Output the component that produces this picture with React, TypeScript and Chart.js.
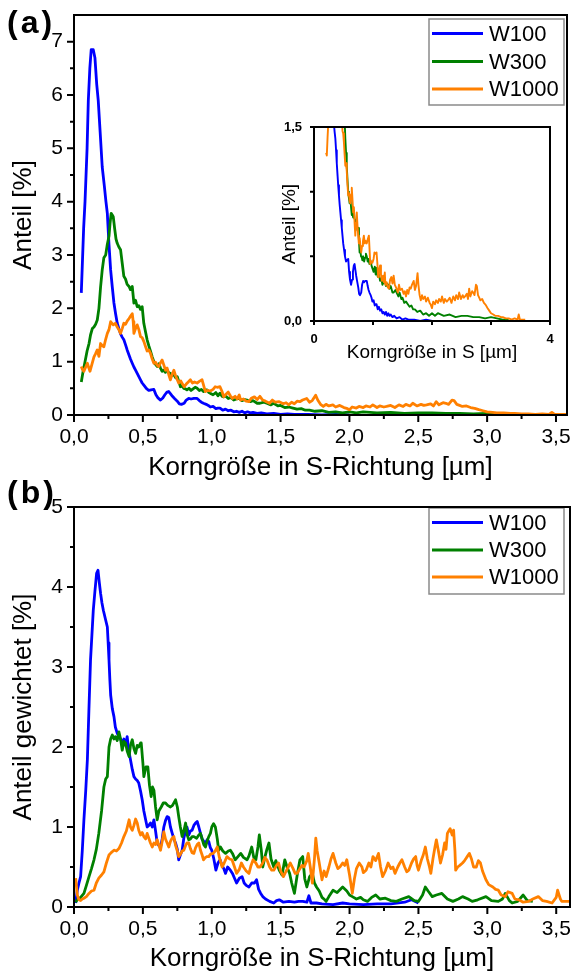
import React, { useEffect, useRef } from 'react';
import { Chart, registerables } from 'chart.js';

Chart.register(...registerables);

const FONT = "'Liberation Sans', Arial, Helvetica, sans-serif";

const seriesLabels = ['W100', 'W300', 'W1000'];
const seriesColors = ['#0000ff', '#008000', '#ff8000'];

// tick values
const xMajorTicks = [0, 0.5, 1, 1.5, 2, 2.5, 3, 3.5];
const xMinorTicks = [0.25, 0.75, 1.25, 1.75, 2.25, 2.75, 3.25];
const topYMajorTicks = [0, 1, 2, 3, 4, 5, 6, 7];
const topYMinorTicks = [0.5, 1.5, 2.5, 3.5, 4.5, 5.5, 6.5];
const bottomYMajorTicks = [0, 1, 2, 3, 4, 5];
const bottomYMinorTicks = [0.5, 1.5, 2.5, 3.5, 4.5];
const insetXTicks = [0, 1, 2, 3, 4];
const insetXLabels = [0, 4];
const insetYTicks = [0, 0.5, 1, 1.5];
const insetYLabels = [0, 1.5];
const insetMinX = 0.2;

// (a) Anteil [%]  — [x, y]
const topW100 = [
  [0.053, 2.29], [0.07, 3.5], [0.08, 4.0], [0.095, 5.0], [0.104, 5.9], [0.115, 6.5], [0.125, 6.85],
  [0.14, 6.85], [0.152, 6.7], [0.165, 6.2], [0.176, 5.9], [0.19, 5.3], [0.205, 4.65], [0.22, 4.3],
  [0.232, 4.0], [0.242, 3.78], [0.254, 3.2], [0.266, 2.72], [0.278, 2.4], [0.29, 2.1], [0.302, 1.9],
  [0.314, 1.72], [0.326, 1.62], [0.338, 1.52], [0.35, 1.46], [0.362, 1.41], [0.374, 1.32], [0.386, 1.22],
  [0.4, 1.12], [0.41, 1.05], [0.423, 0.97], [0.435, 0.9], [0.447, 0.84], [0.459, 0.78], [0.471, 0.72],
  [0.483, 0.66], [0.495, 0.6], [0.51, 0.55], [0.525, 0.5], [0.543, 0.46], [0.56, 0.47], [0.58, 0.48],
  [0.595, 0.38], [0.61, 0.32], [0.628, 0.28], [0.645, 0.32], [0.66, 0.38], [0.675, 0.43], [0.688, 0.44],
  [0.7, 0.4], [0.715, 0.35], [0.73, 0.31], [0.75, 0.26], [0.765, 0.21], [0.78, 0.2], [0.8, 0.22],
  [0.815, 0.28], [0.833, 0.31], [0.85, 0.3], [0.87, 0.31], [0.894, 0.31], [0.91, 0.27], [0.925, 0.24],
  [0.94, 0.22], [0.96, 0.2], [0.975, 0.18], [0.99, 0.15], [1.01, 0.16], [1.03, 0.12], [1.045, 0.13],
  [1.06, 0.13], [1.08, 0.09], [1.1, 0.11], [1.12, 0.08], [1.14, 0.09], [1.16, 0.06], [1.18, 0.07],
  [1.2, 0.05], [1.22, 0.07], [1.24, 0.04], [1.26, 0.06], [1.28, 0.04], [1.3, 0.05], [1.33, 0.03],
  [1.36, 0.04], [1.4, 0.02], [1.45, 0.03], [1.5, 0.01], [1.55, 0.02], [1.6, 0.01], [1.7, 0.01],
  [1.8, 0.0], [1.9, 0.01], [2.0, 0.0],
];
const topW300 = [
  [0.053, 0.62], [0.065, 0.8], [0.08, 1.0], [0.095, 1.2], [0.109, 1.34], [0.12, 1.5], [0.133, 1.62],
  [0.145, 1.65], [0.157, 1.7], [0.169, 1.78], [0.181, 2.0], [0.193, 2.4], [0.205, 2.72], [0.217, 2.95],
  [0.23, 3.0], [0.242, 3.2], [0.254, 3.35], [0.262, 3.6], [0.27, 3.78], [0.278, 3.75], [0.285, 3.72],
  [0.295, 3.5], [0.305, 3.3], [0.314, 3.22], [0.326, 3.15], [0.338, 3.1], [0.35, 2.85], [0.362, 2.6],
  [0.374, 2.55], [0.386, 2.45], [0.4, 2.41], [0.41, 2.35], [0.423, 2.41], [0.435, 2.1], [0.447, 2.15],
  [0.459, 2.03], [0.471, 2.05], [0.483, 1.98], [0.495, 2.03], [0.507, 1.72], [0.52, 1.55], [0.531, 1.41],
  [0.543, 1.3], [0.555, 1.2], [0.568, 1.09], [0.58, 1.0], [0.592, 0.95], [0.604, 0.91], [0.616, 0.96],
  [0.628, 0.88], [0.64, 0.82], [0.652, 0.84], [0.664, 0.8], [0.676, 0.85], [0.688, 0.79], [0.7, 0.78],
  [0.712, 0.74], [0.725, 0.76], [0.737, 0.7], [0.75, 0.72], [0.762, 0.62], [0.773, 0.53], [0.785, 0.55],
  [0.797, 0.5], [0.81, 0.49], [0.82, 0.47], [0.835, 0.5], [0.85, 0.46], [0.865, 0.49], [0.88, 0.52],
  [0.894, 0.5], [0.91, 0.46], [0.925, 0.48], [0.94, 0.44], [0.955, 0.47], [0.966, 0.47], [0.98, 0.42],
  [0.995, 0.4], [1.01, 0.38], [1.03, 0.42], [1.045, 0.36], [1.06, 0.41], [1.075, 0.35], [1.087, 0.34],
  [1.1, 0.36], [1.12, 0.31], [1.14, 0.33], [1.16, 0.28], [1.18, 0.3], [1.2, 0.31], [1.22, 0.27],
  [1.24, 0.29], [1.256, 0.28], [1.28, 0.25], [1.3, 0.27], [1.33, 0.22], [1.35, 0.22], [1.38, 0.24],
  [1.4, 0.22], [1.43, 0.19], [1.45, 0.22], [1.48, 0.17], [1.5, 0.18], [1.53, 0.14], [1.56, 0.15],
  [1.59, 0.13], [1.62, 0.11], [1.65, 0.12], [1.68, 0.09], [1.71, 0.09], [1.75, 0.07], [1.8, 0.08],
  [1.85, 0.05], [1.9, 0.06], [1.95, 0.04], [2.0, 0.06], [2.05, 0.04], [2.1, 0.06], [2.2, 0.04],
  [2.3, 0.05], [2.4, 0.03], [2.5, 0.04], [2.6, 0.04], [2.7, 0.03], [2.8, 0.03], [2.9, 0.02],
  [3.0, 0.03], [3.1, 0.02], [3.2, 0.01], [3.3, 0.01],
];
const topW1000 = [
  [0.053, 0.91], [0.062, 0.85], [0.072, 0.82], [0.085, 0.9], [0.097, 0.97], [0.108, 0.88], [0.116, 0.82],
  [0.13, 0.95], [0.145, 1.09], [0.157, 1.15], [0.169, 1.22], [0.181, 1.1], [0.193, 1.34], [0.205, 1.3],
  [0.217, 1.28], [0.23, 1.42], [0.242, 1.53], [0.254, 1.6], [0.266, 1.75], [0.275, 1.72], [0.285, 1.69],
  [0.3, 1.72], [0.314, 1.65], [0.326, 1.6], [0.338, 1.53], [0.35, 1.62], [0.362, 1.72], [0.374, 1.7],
  [0.386, 1.76], [0.4, 1.81], [0.41, 1.85], [0.423, 1.9], [0.43, 1.75], [0.435, 1.53], [0.447, 1.62],
  [0.459, 1.69], [0.471, 1.6], [0.483, 1.47], [0.495, 1.45], [0.507, 1.38], [0.52, 1.28], [0.531, 1.2],
  [0.543, 1.22], [0.555, 1.16], [0.568, 1.05], [0.58, 0.97], [0.592, 0.99], [0.604, 0.93], [0.616, 0.91],
  [0.628, 0.98], [0.64, 1.03], [0.652, 0.94], [0.664, 0.84], [0.676, 0.88], [0.688, 0.76], [0.7, 0.66],
  [0.712, 0.76], [0.725, 0.84], [0.737, 0.74], [0.75, 0.66], [0.76, 0.6], [0.775, 0.64], [0.79, 0.57],
  [0.8, 0.53], [0.815, 0.58], [0.83, 0.62], [0.845, 0.66], [0.86, 0.6], [0.875, 0.62], [0.894, 0.6],
  [0.91, 0.63], [0.93, 0.66], [0.954, 0.44], [0.97, 0.46], [0.99, 0.45], [1.01, 0.48], [1.025, 0.53],
  [1.04, 0.52], [1.06, 0.53], [1.075, 0.44], [1.087, 0.34], [1.1, 0.38], [1.12, 0.43], [1.135, 0.36],
  [1.15, 0.31], [1.17, 0.35], [1.185, 0.3], [1.2, 0.375], [1.21, 0.28], [1.23, 0.3], [1.25, 0.26],
  [1.27, 0.25], [1.29, 0.32], [1.31, 0.34], [1.33, 0.29], [1.35, 0.35], [1.37, 0.28], [1.39, 0.26],
  [1.42, 0.22], [1.44, 0.28], [1.46, 0.24], [1.49, 0.25], [1.52, 0.21], [1.54, 0.23], [1.56, 0.19],
  [1.58, 0.24], [1.6, 0.21], [1.62, 0.26], [1.64, 0.25], [1.66, 0.28], [1.69, 0.31], [1.71, 0.24],
  [1.73, 0.27], [1.755, 0.37], [1.77, 0.28], [1.79, 0.2], [1.81, 0.16], [1.83, 0.2], [1.85, 0.17],
  [1.88, 0.19], [1.9, 0.15], [1.93, 0.18], [1.96, 0.14], [1.98, 0.125], [2.0, 0.1], [2.02, 0.15],
  [2.05, 0.13], [2.07, 0.16], [2.1, 0.14], [2.12, 0.17], [2.15, 0.15], [2.17, 0.19], [2.2, 0.14],
  [2.22, 0.17], [2.25, 0.15], [2.27, 0.16], [2.3, 0.18], [2.33, 0.14], [2.36, 0.19], [2.39, 0.16],
  [2.41, 0.2], [2.44, 0.17], [2.46, 0.22], [2.49, 0.17], [2.52, 0.2], [2.54, 0.18], [2.56, 0.19],
  [2.59, 0.21], [2.61, 0.17], [2.63, 0.25], [2.65, 0.19], [2.68, 0.23], [2.7, 0.22], [2.72, 0.2],
  [2.745, 0.28], [2.76, 0.27], [2.78, 0.2], [2.8, 0.18], [2.82, 0.16], [2.85, 0.17], [2.88, 0.14],
  [2.91, 0.125], [2.94, 0.1], [2.97, 0.08], [3.0, 0.06], [3.04, 0.05], [3.07, 0.04], [3.12, 0.04],
  [3.17, 0.03], [3.2, 0.03], [3.25, 0.02], [3.3, 0.02], [3.35, 0.01], [3.4, 0.02], [3.45, 0.01],
  [3.47, 0.05], [3.49, 0.01], [3.54, 0.01], [3.58, 0.01],
];

// (b) Anteil gewichtet [%]  — [x, y]
const bottomW100 = [
  [0.012, 0.05], [0.024, 0.21], [0.036, 0.3], [0.048, 0.38], [0.06, 0.7], [0.072, 1.09], [0.085, 1.45],
  [0.097, 1.84], [0.108, 2.45], [0.12, 3.09], [0.13, 3.4], [0.14, 3.71], [0.152, 3.95], [0.164, 4.17],
  [0.174, 4.21], [0.184, 4.05], [0.193, 3.92], [0.203, 3.8], [0.213, 3.71], [0.228, 3.6], [0.242, 3.5],
  [0.248, 3.3], [0.254, 3.09], [0.26, 2.85], [0.266, 2.65], [0.278, 2.48], [0.29, 2.38], [0.3, 2.25],
  [0.314, 2.17], [0.326, 2.13], [0.338, 2.1], [0.35, 2.05], [0.362, 2.1], [0.374, 2.02], [0.386, 2.13],
  [0.398, 1.95], [0.41, 1.84], [0.423, 1.72], [0.435, 1.63], [0.447, 1.6], [0.459, 1.58], [0.47, 1.55],
  [0.483, 1.45], [0.495, 1.34], [0.507, 1.2], [0.52, 1.09], [0.531, 1.0], [0.543, 1.02], [0.555, 1.05],
  [0.568, 1.0], [0.58, 1.09], [0.592, 0.95], [0.604, 0.8], [0.616, 0.77], [0.628, 0.75], [0.64, 0.85],
  [0.652, 1.0], [0.664, 1.08], [0.676, 1.13], [0.688, 1.12], [0.7, 1.0], [0.713, 0.92], [0.725, 0.85],
  [0.737, 0.8], [0.75, 0.72], [0.76, 0.59], [0.772, 0.65], [0.785, 0.71], [0.797, 0.86], [0.81, 0.95],
  [0.82, 1.0], [0.833, 0.9], [0.845, 0.95], [0.857, 0.96], [0.87, 1.02], [0.882, 1.05], [0.894, 1.07],
  [0.906, 1.0], [0.918, 0.92], [0.93, 0.85], [0.942, 0.82], [0.954, 0.8], [0.966, 0.84], [0.978, 0.82],
  [0.99, 0.74], [1.0, 0.71], [1.015, 0.6], [1.03, 0.46], [1.045, 0.55], [1.06, 0.59], [1.075, 0.52],
  [1.087, 0.48], [1.1, 0.42], [1.115, 0.5], [1.135, 0.46], [1.15, 0.42], [1.165, 0.36], [1.18, 0.3],
  [1.2, 0.36], [1.22, 0.38], [1.235, 0.3], [1.25, 0.27], [1.27, 0.25], [1.29, 0.3], [1.31, 0.3],
  [1.325, 0.34], [1.34, 0.22], [1.355, 0.17], [1.37, 0.13], [1.39, 0.1], [1.42, 0.07], [1.45, 0.05],
  [1.47, 0.08], [1.49, 0.09], [1.52, 0.06], [1.56, 0.07], [1.6, 0.06], [1.63, 0.07], [1.66, 0.07],
  [1.69, 0.06], [1.705, 0.14], [1.72, 0.05], [1.76, 0.05], [1.8, 0.04], [1.88, 0.03], [1.95, 0.05],
  [2.0, 0.04], [2.1, 0.03], [2.2, 0.04], [2.3, 0.04], [2.4, 0.06], [2.45, 0.09], [2.5, 0.05],
];
const bottomW300 = [
  [0.012, 0.06], [0.024, 0.09], [0.048, 0.12], [0.072, 0.17], [0.09, 0.27], [0.109, 0.38], [0.127, 0.48],
  [0.145, 0.59], [0.162, 0.72], [0.18, 0.92], [0.2, 1.2], [0.217, 1.5], [0.23, 1.6], [0.242, 1.63],
  [0.254, 2.0], [0.266, 2.1], [0.278, 2.15], [0.29, 2.1], [0.3, 2.13], [0.314, 2.08], [0.326, 2.19],
  [0.338, 2.1], [0.35, 1.96], [0.362, 2.07], [0.374, 2.05], [0.386, 1.95], [0.4, 1.88], [0.41, 2.02],
  [0.423, 2.09], [0.435, 1.98], [0.447, 1.92], [0.459, 2.02], [0.47, 2.0], [0.483, 2.05], [0.488, 2.05],
  [0.5, 1.8], [0.507, 1.63], [0.522, 1.75], [0.536, 1.75], [0.548, 1.52], [0.56, 1.38], [0.57, 1.5],
  [0.58, 1.46], [0.592, 1.25], [0.604, 1.09], [0.616, 1.2], [0.633, 1.25], [0.648, 1.3], [0.664, 1.3],
  [0.68, 1.27], [0.7, 1.25], [0.715, 1.27], [0.737, 1.34], [0.75, 1.25], [0.76, 1.13], [0.772, 1.0],
  [0.785, 0.88], [0.797, 0.95], [0.81, 1.05], [0.822, 0.9], [0.833, 0.84], [0.845, 0.85], [0.857, 0.88],
  [0.87, 0.88], [0.89, 0.86], [0.906, 0.9], [0.918, 0.92], [0.93, 0.85], [0.942, 0.78], [0.954, 0.75],
  [0.966, 0.82], [0.978, 0.88], [0.99, 0.92], [1.0, 1.0], [1.013, 1.04], [1.026, 1.0], [1.04, 0.85],
  [1.05, 0.71], [1.063, 0.75], [1.08, 0.7], [1.1, 0.67], [1.12, 0.7], [1.135, 0.71], [1.15, 0.67],
  [1.17, 0.59], [1.19, 0.63], [1.21, 0.67], [1.23, 0.62], [1.256, 0.59], [1.27, 0.64], [1.29, 0.75],
  [1.305, 0.62], [1.32, 0.59], [1.335, 0.75], [1.345, 0.9], [1.36, 0.7], [1.37, 0.5], [1.385, 0.62],
  [1.4, 0.72], [1.415, 0.8], [1.43, 0.6], [1.45, 0.5], [1.465, 0.58], [1.49, 0.46], [1.51, 0.4],
  [1.53, 0.59], [1.546, 0.5], [1.565, 0.42], [1.58, 0.3], [1.6, 0.17], [1.62, 0.4], [1.64, 0.59],
  [1.66, 0.63], [1.675, 0.35], [1.69, 0.25], [1.71, 0.38], [1.73, 0.42], [1.745, 0.3], [1.76, 0.25],
  [1.78, 0.2], [1.8, 0.12], [1.82, 0.09], [1.83, 0.07], [1.85, 0.13], [1.88, 0.21], [1.91, 0.18],
  [1.95, 0.25], [1.98, 0.2], [2.0, 0.15], [2.02, 0.13], [2.05, 0.1], [2.08, 0.12], [2.1, 0.09],
  [2.13, 0.07], [2.16, 0.12], [2.19, 0.15], [2.22, 0.1], [2.26, 0.11], [2.3, 0.08], [2.34, 0.07],
  [2.38, 0.1], [2.43, 0.13], [2.47, 0.08], [2.5, 0.07], [2.53, 0.15], [2.55, 0.25], [2.57, 0.2],
  [2.6, 0.13], [2.63, 0.15], [2.67, 0.17], [2.71, 0.1], [2.75, 0.07], [2.79, 0.1], [2.82, 0.13],
  [2.86, 0.1], [2.89, 0.07], [2.93, 0.09], [2.99, 0.13], [3.03, 0.08], [3.08, 0.07], [3.11, 0.1],
  [3.13, 0.17], [3.16, 0.08], [3.18, 0.05], [3.22, 0.07], [3.26, 0.15], [3.29, 0.08], [3.33, 0.07],
];
const bottomW1000 = [
  [0.012, 0.36], [0.024, 0.15], [0.036, 0.09], [0.048, 0.08], [0.06, 0.1], [0.072, 0.11], [0.09, 0.13],
  [0.109, 0.17], [0.127, 0.2], [0.145, 0.21], [0.162, 0.3], [0.18, 0.36], [0.2, 0.4], [0.217, 0.44],
  [0.235, 0.55], [0.254, 0.65], [0.27, 0.68], [0.29, 0.71], [0.308, 0.7], [0.326, 0.73], [0.345, 0.8],
  [0.362, 0.88], [0.38, 0.95], [0.4, 1.09], [0.41, 1.0], [0.423, 0.96], [0.435, 1.02], [0.447, 1.1],
  [0.459, 1.05], [0.47, 0.96], [0.483, 0.9], [0.495, 0.93], [0.507, 0.88], [0.52, 0.85], [0.531, 0.92],
  [0.543, 0.86], [0.555, 0.8], [0.568, 0.75], [0.58, 0.8], [0.592, 0.78], [0.604, 0.84], [0.616, 0.77],
  [0.628, 0.71], [0.64, 0.82], [0.652, 0.94], [0.664, 0.85], [0.676, 0.8], [0.688, 0.75], [0.7, 0.82],
  [0.712, 0.86], [0.725, 0.88], [0.737, 0.77], [0.75, 0.7], [0.76, 0.63], [0.772, 0.66], [0.785, 0.7],
  [0.797, 0.71], [0.81, 0.77], [0.82, 0.8], [0.833, 0.8], [0.845, 0.73], [0.857, 0.68], [0.87, 0.67],
  [0.882, 0.74], [0.894, 0.78], [0.906, 0.8], [0.918, 0.71], [0.93, 0.65], [0.94, 0.59], [0.954, 0.62],
  [0.966, 0.63], [0.978, 0.63], [0.99, 0.66], [1.01, 0.67], [1.025, 0.7], [1.04, 0.75], [1.055, 0.62],
  [1.075, 0.5], [1.09, 0.55], [1.11, 0.63], [1.13, 0.6], [1.147, 0.59], [1.165, 0.5], [1.18, 0.42],
  [1.2, 0.47], [1.215, 0.55], [1.23, 0.5], [1.25, 0.45], [1.27, 0.42], [1.285, 0.52], [1.3, 0.59],
  [1.32, 0.55], [1.335, 0.5], [1.35, 0.5], [1.37, 0.55], [1.385, 0.62], [1.4, 0.59], [1.42, 0.5],
  [1.435, 0.46], [1.45, 0.46], [1.47, 0.52], [1.485, 0.55], [1.5, 0.45], [1.52, 0.38], [1.54, 0.45],
  [1.555, 0.5], [1.57, 0.55], [1.59, 0.48], [1.605, 0.42], [1.62, 0.42], [1.64, 0.48], [1.655, 0.52],
  [1.67, 0.5], [1.69, 0.58], [1.7, 0.67], [1.715, 0.5], [1.73, 0.3], [1.745, 0.6], [1.755, 0.86],
  [1.765, 0.7], [1.78, 0.55], [1.8, 0.34], [1.815, 0.45], [1.83, 0.38], [1.85, 0.5], [1.865, 0.6],
  [1.88, 0.67], [1.9, 0.55], [1.915, 0.48], [1.93, 0.5], [1.95, 0.55], [1.965, 0.52], [1.98, 0.59],
  [2.0, 0.4], [2.02, 0.17], [2.035, 0.35], [2.05, 0.48], [2.07, 0.55], [2.09, 0.5], [2.1, 0.43],
  [2.12, 0.46], [2.14, 0.55], [2.155, 0.5], [2.17, 0.63], [2.19, 0.58], [2.21, 0.67], [2.225, 0.5],
  [2.24, 0.38], [2.26, 0.45], [2.28, 0.55], [2.3, 0.48], [2.315, 0.5], [2.33, 0.42], [2.35, 0.5],
  [2.365, 0.55], [2.38, 0.59], [2.4, 0.5], [2.415, 0.44], [2.43, 0.46], [2.45, 0.55], [2.465, 0.6],
  [2.48, 0.63], [2.49, 0.52], [2.5, 0.46], [2.52, 0.58], [2.535, 0.65], [2.55, 0.75], [2.565, 0.6],
  [2.58, 0.5], [2.59, 0.42], [2.605, 0.6], [2.62, 0.75], [2.63, 0.84], [2.645, 0.7], [2.66, 0.55],
  [2.675, 0.65], [2.69, 0.8], [2.7, 0.72], [2.71, 0.92], [2.72, 0.95], [2.73, 0.98], [2.745, 0.9],
  [2.755, 0.96], [2.765, 0.7], [2.77, 0.46], [2.785, 0.5], [2.8, 0.52], [2.82, 0.55], [2.835, 0.58],
  [2.85, 0.62], [2.87, 0.67], [2.885, 0.6], [2.9, 0.5], [2.92, 0.5], [2.935, 0.58], [2.95, 0.55],
  [2.965, 0.45], [2.99, 0.34], [3.01, 0.28], [3.04, 0.25], [3.06, 0.22], [3.08, 0.21], [3.1, 0.15],
  [3.13, 0.13], [3.15, 0.19], [3.18, 0.17], [3.2, 0.1], [3.23, 0.09], [3.26, 0.06], [3.3, 0.07],
  [3.33, 0.1], [3.37, 0.13], [3.4, 0.08], [3.43, 0.07], [3.47, 0.05], [3.5, 0.12], [3.51, 0.21],
  [3.53, 0.1], [3.54, 0.07], [3.57, 0.07], [3.6, 0.07],
];

const topSeries = [topW100, topW300, topW1000];
const bottomSeries = [bottomW100, bottomW300, bottomW1000];
const insetSeries = topSeries.map((s) => s.filter(([x]) => x >= insetMinX));

const commaFmt = (v: number) => v.toFixed(1).replace('.', ',');

function makeDatasets(series: number[][][], width: number) {
  return series.map((s, i) => ({
    label: seriesLabels[i],
    data: s.map(([x, y]) => ({ x, y })),
    borderColor: seriesColors[i],
    backgroundColor: seriesColors[i],
    borderWidth: width,
    pointRadius: 0,
    fill: false,
    tension: 0,
    borderJoinStyle: 'round',
    order: 3 - i,
  }));
}

type FrameOpts = {
  xMajor: number[]; xMinor: number[]; yMajor: number[]; yMinor: number[];
  majorLen: number; minorLen: number; lineWidth: number;
};

function framePlugin(id: string, o: FrameOpts) {
  return {
    id,
    afterDraw(chart: any) {
      const { ctx, chartArea: a, scales } = chart;
      const xs = scales.x;
      const ys = scales.y;
      ctx.save();
      ctx.strokeStyle = '#000';
      ctx.lineWidth = o.lineWidth;
      ctx.strokeRect(a.left, a.top, a.right - a.left, a.bottom - a.top);
      ctx.beginPath();
      const tickX = (v: number, len: number) => {
        const p = xs.getPixelForValue(v);
        ctx.moveTo(p, a.bottom);
        ctx.lineTo(p, a.bottom + len);
      };
      const tickY = (v: number, len: number) => {
        const p = ys.getPixelForValue(v);
        ctx.moveTo(a.left, p);
        ctx.lineTo(a.left - len, p);
      };
      o.xMajor.forEach((v) => tickX(v, o.majorLen));
      o.xMinor.forEach((v) => tickX(v, o.minorLen));
      o.yMajor.forEach((v) => tickY(v, o.majorLen));
      o.yMinor.forEach((v) => tickY(v, o.minorLen));
      ctx.stroke();
      ctx.restore();
    },
  };
}

type LegendOpts = {
  left: number; top: number; right: number; bottom: number;
  rows: number[]; lineX1: number; lineX2: number; textX: number; fontSize: number;
};

function legendPlugin(id: string, o: LegendOpts) {
  return {
    id,
    afterDatasetsDraw(chart: any) {
      const ctx = chart.ctx;
      ctx.save();
      ctx.fillStyle = '#ffffff';
      ctx.fillRect(o.left, o.top, o.right - o.left, o.bottom - o.top);
      ctx.strokeStyle = '#8a8a8a';
      ctx.lineWidth = 1.5;
      ctx.strokeRect(o.left, o.top, o.right - o.left, o.bottom - o.top);
      chart.data.datasets.forEach((ds: any, i: number) => {
        const y = o.rows[i];
        ctx.strokeStyle = ds.borderColor;
        ctx.lineWidth = 3;
        ctx.beginPath();
        ctx.moveTo(o.lineX1, y);
        ctx.lineTo(o.lineX2, y);
        ctx.stroke();
        ctx.fillStyle = '#000';
        ctx.font = `${o.fontSize}px ${FONT}`;
        ctx.textAlign = 'left';
        ctx.textBaseline = 'middle';
        ctx.fillText(ds.label, o.textX, y + 1);
      });
      ctx.restore();
    },
  };
}

function setTicks(values: number[]) {
  return (scale: any) => {
    scale.ticks = values.map((v) => ({ value: v }));
  };
}

function fixX(height: number) {
  return (s: any) => {
    s.height = height;
    s.paddingLeft = 0;
    s.paddingRight = 0;
  };
}

function fixY(width: number) {
  return (s: any) => {
    s.width = width;
    s.paddingTop = 0;
    s.paddingBottom = 0;
  };
}

type PanelOpts = {
  series: number[][][];
  yMax: number; xMax: number;
  yMajor: number[]; yMinor: number[];
  yTitle: string;
  padTop: number; padRight: number;
  xAxisHeight: number; xTitlePadBottom: number;
  legend: LegendOpts;
  id: string;
};

function panelConfig(p: PanelOpts): any {
  return {
    type: 'line',
    data: { datasets: makeDatasets(p.series, 2.8) },
    options: {
      responsive: false,
      animation: false,
      devicePixelRatio: 1,
      layout: { padding: { top: p.padTop, right: p.padRight, left: 0, bottom: 0 } },
      plugins: { legend: { display: false }, tooltip: { enabled: false } },
      scales: {
        x: {
          type: 'linear',
          min: 0,
          max: p.xMax,
          afterBuildTicks: setTicks(xMajorTicks),
          afterFit: fixX(p.xAxisHeight),
          grid: { display: false, drawTicks: false, tickLength: 0 },
          border: { display: false },
          ticks: {
            padding: 10, autoSkip: false, maxRotation: 0, color: '#000',
            font: { family: FONT, size: 21 },
            callback: (v: any) => commaFmt(Number(v)),
          },
          title: {
            display: true, text: 'Korngröße in S-Richtung [µm]', color: '#000',
            font: { family: FONT, size: 26 }, padding: { top: 0, bottom: p.xTitlePadBottom },
          },
        },
        y: {
          type: 'linear',
          min: 0,
          max: p.yMax,
          afterBuildTicks: setTicks(p.yMajor),
          afterFit: fixY(74),
          grid: { display: false, drawTicks: false, tickLength: 0 },
          border: { display: false },
          ticks: {
            padding: 11, autoSkip: false, color: '#000',
            font: { family: FONT, size: 21 },
            callback: (v: any) => String(v),
          },
          title: {
            display: true, text: p.yTitle, color: '#000',
            font: { family: FONT, size: 26 }, padding: { top: 8, bottom: 0 },
          },
        },
      },
    },
    plugins: [
      framePlugin(p.id + 'Frame', {
        xMajor: xMajorTicks, xMinor: xMinorTicks, yMajor: p.yMajor, yMinor: p.yMinor,
        majorLen: 7, minorLen: 4, lineWidth: 2,
      }),
      legendPlugin(p.id + 'Legend', p.legend),
    ],
  };
}

function insetConfig(): any {
  return {
    type: 'line',
    data: { datasets: makeDatasets(insetSeries, 1.9) },
    options: {
      responsive: false,
      animation: false,
      devicePixelRatio: 1,
      layout: { padding: { top: 17, right: 12, left: 0, bottom: 0 } },
      plugins: { legend: { display: false }, tooltip: { enabled: false } },
      scales: {
        x: {
          type: 'linear', min: 0, max: 4,
          afterBuildTicks: setTicks(insetXLabels),
          afterFit: fixX(51),
          grid: { display: false, drawTicks: false, tickLength: 0 },
          border: { display: false },
          ticks: {
            padding: 11, autoSkip: false, maxRotation: 0, color: '#000',
            font: { family: FONT, size: 13, weight: 'bold' },
            callback: (v: any) => String(v),
          },
          title: {
            display: true, text: 'Korngröße in S [µm]', color: '#000',
            font: { family: FONT, size: 19 }, padding: { top: 0, bottom: 8 },
          },
        },
        y: {
          type: 'linear', min: 0, max: 1.5,
          afterBuildTicks: setTicks(insetYLabels),
          afterFit: fixY(52),
          grid: { display: false, drawTicks: false, tickLength: 0 },
          border: { display: false },
          ticks: {
            padding: 12, autoSkip: false, color: '#000',
            font: { family: FONT, size: 13, weight: 'bold' },
            callback: (v: any) => commaFmt(Number(v)),
          },
          title: {
            display: true, text: 'Anteil [%]', color: '#000',
            font: { family: FONT, size: 19 }, padding: { top: 16, bottom: 0 },
          },
        },
      },
    },
    plugins: [
      framePlugin('insetFrame', {
        xMajor: insetXTicks, xMinor: [], yMajor: insetYTicks, yMinor: [],
        majorLen: 4, minorLen: 0, lineWidth: 2,
      }),
    ],
  };
}

function ChartCanvas(props: { make: () => any; left: number; top: number; width: number; height: number }) {
  const ref = useRef<HTMLCanvasElement>(null);
  useEffect(() => {
    const chart = new Chart(ref.current as HTMLCanvasElement, props.make());
    return () => chart.destroy();
  }, []);
  return (
    <canvas
      ref={ref}
      width={props.width}
      height={props.height}
      style={{
        position: 'absolute', left: props.left, top: props.top,
        width: props.width, height: props.height, display: 'block',
      }}
    />
  );
}

const labelStyle: React.CSSProperties = {
  position: 'absolute', left: 7, fontFamily: FONT, fontWeight: 'bold',
  fontSize: 32, lineHeight: '32px', letterSpacing: 3, color: '#000', whiteSpace: 'nowrap',
};

export default function App() {
  return (
    <div style={{ position: 'absolute', left: 0, top: 0, width: 574, height: 976, background: '#fff', overflow: 'hidden' }}>
      <ChartCanvas
        left={0} top={0} width={574} height={490}
        make={() => panelConfig({
          id: 'top', series: topSeries, yMax: 7.5, xMax: 3.58,
          yMajor: topYMajorTicks, yMinor: topYMinorTicks, yTitle: 'Anteil [%]',
          padTop: 15, padRight: 7, xAxisHeight: 75, xTitlePadBottom: 7,
          legend: { left: 429, top: 19, right: 564, bottom: 105, rows: [33.5, 61.5, 89], lineX1: 432, lineX2: 483, textX: 489, fontSize: 22 },
        })}
      />
      <ChartCanvas
        left={0} top={490} width={574} height={486}
        make={() => panelConfig({
          id: 'bottom', series: bottomSeries, yMax: 5, xMax: 3.6,
          yMajor: bottomYMajorTicks, yMinor: bottomYMinorTicks, yTitle: 'Anteil gewichtet [%]',
          padTop: 17, padRight: 4, xAxisHeight: 69, xTitlePadBottom: 2,
          legend: { left: 429, top: 18, right: 564, bottom: 104, rows: [32.5, 60, 87], lineX1: 432, lineX2: 483, textX: 489, fontSize: 22 },
        })}
      />
      <ChartCanvas left={262} top={110} width={300} height={262} make={insetConfig} />
      <div style={{ ...labelStyle, top: 6 }}>(a)</div>
      <div style={{ ...labelStyle, top: 476 }}>(b)</div>
    </div>
  );
}
